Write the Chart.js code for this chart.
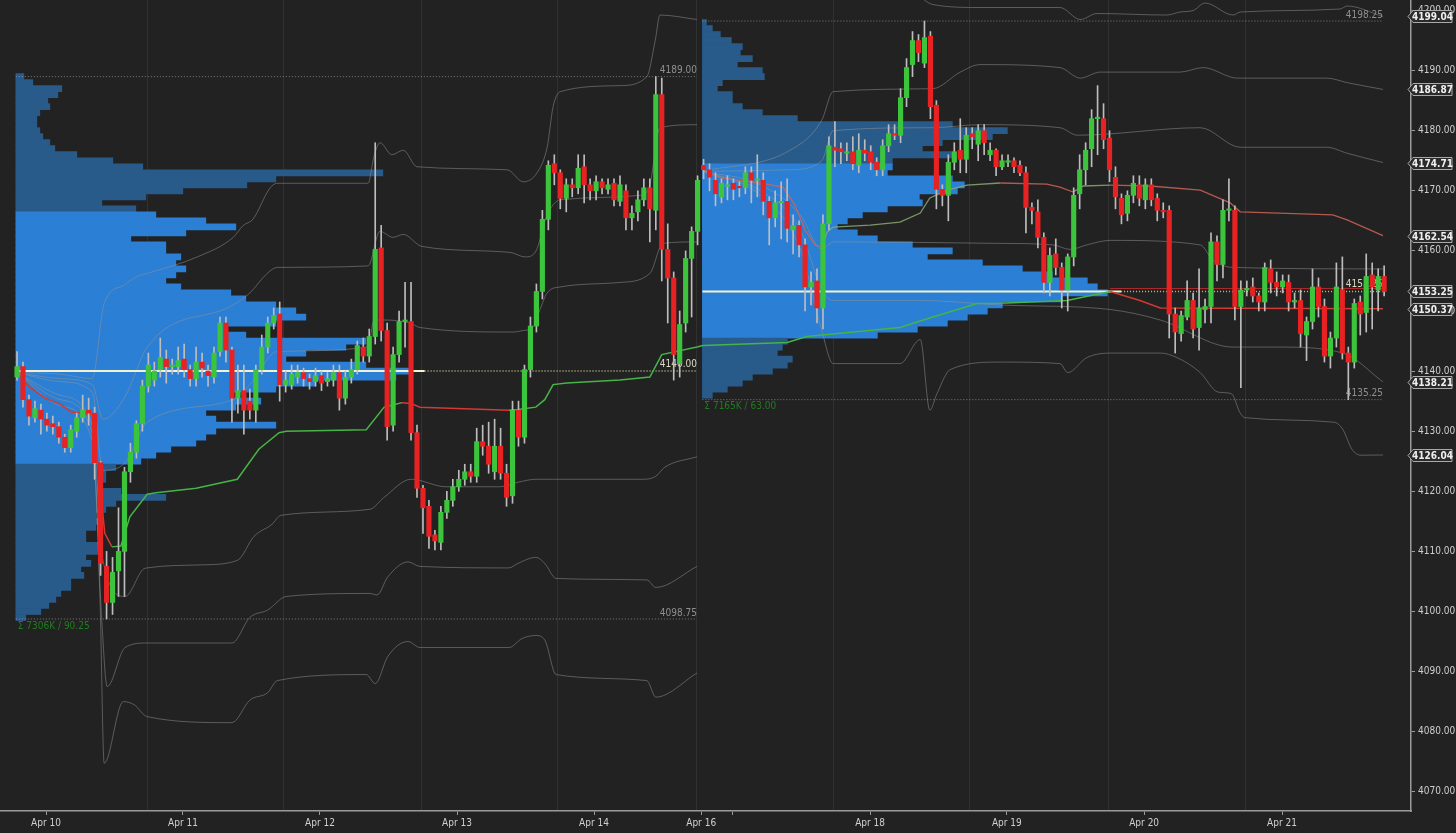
<!DOCTYPE html>
<html>
<head>
<meta charset="utf-8">
<script src="https://cdn.jsdelivr.net/npm/chart.js@4.4.1/dist/chart.umd.min.js"></script>
<style>
  html, body { margin: 0; padding: 0; background: #222222; }
  #wrap { width: 1456px; height: 833px; }
</style>
</head>
<body>
<div id="wrap"><canvas id="mainChartCanvas" width="1456" height="833"></canvas></div>
<script>
const FONT = "'Liberation Sans Narrow', 'DejaVu Sans Condensed', 'Arial Narrow', sans-serif";

// x unit = one hourly bar, bar 0 = first bar of the Apr 10 session
const xMin = -2.85, xMax = 233.5;
const yMin = 4066.8, yMax = 4201.75;

const dateTickVals = [4.86, 27.8, 50.75, 73.7, 96.65, 114.6, 119.8, 142.9, 165.8, 188.8, 211.9];
const dateTickLabels = ['Apr 10', 'Apr 11', 'Apr 12', 'Apr 13', 'Apr 14', 'Apr 16', '', 'Apr 18', 'Apr 19', 'Apr 20', 'Apr 21'];
const sessionBreaks = [21.8, 44.7, 67.7, 90.6, 113.9, 136.7, 159.6, 182.75, 205.7];
const priceTicks = [4070, 4080, 4090, 4100, 4110, 4120, 4130, 4140, 4150, 4160, 4170, 4180, 4190, 4200];
const markerValues = [4199.04, 4186.87, 4174.71, 4162.54, 4153.25, 4150.37, 4138.21, 4126.04];

// [open, high, low, close]
const week1Candles = [
  [4139,4143.25,4138.5,4140.75],[4140.75,4141.5,4134,4135.25],[4135.25,4136,4131,4132.5],[4132.25,4135,4131.5,4133.75],
  [4133.5,4134.5,4129.5,4132],[4132,4133,4130,4131],[4131.25,4132.5,4129.5,4130.75],[4130.75,4131.5,4128,4129],
  [4129,4129.5,4126.5,4127.25],[4127.25,4131,4126.5,4130.25],[4130,4133,4129,4132.25],[4132.25,4136,4131.5,4133.5],
  [4133.5,4135.5,4131,4133],[4133,4134,4122,4124.75],[4124.75,4125,4106,4108],[4107.5,4110,4098.75,4101.5],
  [4101.5,4109,4099.5,4106.5],[4106.75,4117.25,4102.5,4110],[4110,4124,4102.5,4123.25],[4123.25,4128,4121.5,4126.5],
  [4126.5,4131.75,4125.5,4131.25],[4131.25,4138.5,4130,4137.5],[4137.5,4143,4136.5,4141],[4138.5,4141.5,4137.5,4140],
  [4140.25,4145.5,4139,4142.25],[4142,4143.5,4138,4140.75],[4140.75,4142,4139.5,4141],[4140.75,4144,4139.5,4141.75],
  [4142,4144.5,4139,4140.25],[4140.25,4141,4137.5,4138.75],[4138.75,4144,4137.5,4141.5],[4141.5,4143,4139,4140.5],
  [4140,4141,4137.5,4139.25],[4139,4144,4138,4143],[4143.25,4149,4142.5,4148],[4148,4149,4141.5,4143.5],
  [4143.5,4144,4131.5,4135.5],[4135.5,4141,4133,4136.75],[4136.75,4141,4129.5,4133.5],[4135,4137,4132,4133.5],
  [4133.5,4141,4131.5,4140.25],[4140.25,4146,4139.5,4144],[4144,4149,4143,4148],[4148,4150.5,4147,4149.25],
  [4149.5,4151.5,4135,4137.75],[4137.75,4140,4136.5,4138.5],[4137.75,4141,4137,4139.5],[4139,4141,4138,4139.75],
  [4139.75,4140.5,4137.5,4138.75],[4138.75,4139.5,4137,4138.25],[4138.25,4140.5,4137.5,4139.25],[4139.25,4140,4136.75,4138],
  [4138.25,4139.75,4137.5,4138.75],[4138.5,4141,4137.5,4139.75],[4139.75,4141,4133.5,4135.5],[4135.5,4140,4134.5,4139],
  [4139,4142,4138,4140.25],[4140.25,4145,4139.5,4144.25],[4144,4145.5,4141.5,4142.5],[4142.5,4147,4141.5,4145.75],
  [4145.75,4178,4144.5,4160.25],[4160.5,4164.25,4145,4146.75],[4146.75,4148,4128.5,4130.75],[4131,4144,4130,4142.75],
  [4142.75,4150,4141.5,4148.25],[4148.25,4154.75,4144,4148.5],[4148.25,4154.75,4128.5,4129.75],[4129.75,4131,4119,4120.5],
  [4120.5,4121,4113,4117.25],[4117.5,4118.5,4110.5,4112.5],[4112.75,4113.5,4110.25,4111.75],[4111.5,4117.5,4110.25,4116.5],
  [4116.5,4120,4115.5,4118.5],[4118.5,4122,4117.5,4120.75],[4120.75,4123.5,4120,4122],[4122,4124.5,4121,4123.25],
  [4123.25,4124.5,4121.5,4122.5],[4122.5,4130.5,4121.5,4128.25],[4128.25,4131,4126,4127.5],[4127.5,4131.5,4123,4124.5],
  [4123.25,4132,4122,4127.5],[4127.5,4130.5,4122,4123],[4123,4124.5,4117.5,4119],[4119.25,4135,4118,4133.5],
  [4133.5,4135,4127.5,4129],[4129,4141,4128,4140.25],[4140.25,4149,4139,4147.5],[4147.5,4154.5,4146.5,4153.25],
  [4153.25,4166.75,4152,4165.25],[4165.25,4175,4163.5,4174.25],[4174.5,4176,4171,4173],[4173,4173.5,4167,4168.75],
  [4168.75,4172,4166.5,4171],[4171,4172,4169,4170.5],[4170.5,4176,4169.5,4173.75],[4174,4176,4168,4171],
  [4171,4172,4168.5,4170],[4170,4172.5,4168.5,4171.5],[4171.5,4172,4169.5,4170.5],[4170.25,4172,4169.5,4171],
  [4171.25,4172,4167.5,4168.5],[4168.25,4172.5,4167.5,4171],[4170,4171,4163.5,4165.5],[4165.5,4167.5,4163.5,4166.25],
  [4166.5,4170,4165,4168.5],[4168.5,4172,4167.5,4170.5],[4170.5,4172,4161.5,4167],[4166.75,4189,4163.5,4186],
  [4186,4188.75,4155,4160.25],[4160.25,4164.5,4148,4155.5],[4155.5,4156.5,4138.5,4142.75],[4141.25,4150,4139,4147.75],
  [4148,4160,4146.5,4158.75],[4158.75,4164,4149,4163.25],[4163.25,4172.5,4161,4171.75]
];
const week2Candles = [
  [4174.25,4175.25,4172,4173.5],[4173.5,4174.5,4170,4172.25],[4171.75,4173,4167.5,4169.5],[4169,4172,4168,4171.25],
  [4170.75,4172.5,4168.5,4171],[4171.25,4172,4168.5,4170.25],[4170.75,4171.5,4169,4170.5],[4170.5,4174,4169.5,4173],
  [4173,4174,4168,4171.75],[4171.75,4176,4169,4172],[4171.75,4173,4166,4168.25],[4168.25,4169,4161,4165.5],
  [4165.5,4170,4164,4168],[4168,4171.5,4162,4168.25],[4168.25,4172,4161.5,4163.75],[4163.5,4166,4159.5,4164.25],
  [4164.25,4165,4159,4161],[4161,4162,4150,4154],[4154,4156.5,4151,4154.75],[4155,4157,4148,4150.5],
  [4150.5,4166,4147,4164.5],[4164.5,4179,4163.5,4177.5],[4177.25,4181.5,4174,4176.75],[4177,4178,4174.5,4176.5],
  [4176.25,4178,4175,4176.5],[4176.5,4179,4173.5,4174.5],[4174.25,4179.5,4173,4176.75],[4176.75,4178.5,4175,4176.25],
  [4176.5,4177.5,4173.5,4174.75],[4174.75,4175.5,4172.5,4173.5],[4173.5,4178.5,4172.5,4177.5],[4177.5,4181,4176.5,4179.5],
  [4179.5,4181,4178.5,4179.25],[4179.25,4187,4178,4185.5],[4185.5,4192,4184,4190.5],[4191,4196.5,4189,4195],
  [4195,4196,4191.5,4193],[4191.25,4198.25,4190.5,4195.5],[4195.75,4196.5,4182,4184],[4184.25,4185,4167,4170.25],
  [4170.25,4171,4167.5,4169.25],[4169.25,4176,4165,4174.75],[4174.75,4178,4173.5,4176.5],[4176.75,4182,4173,4175.25],
  [4175.25,4180.5,4173,4179.25],[4179.5,4180.5,4177,4179],[4177.75,4181,4175,4180],[4180,4181,4176,4178],
  [4176,4178,4175,4176.75],[4176.75,4177,4172.5,4174],[4174,4176,4173.5,4175],[4174.75,4176,4174,4175],
  [4175,4175.5,4173,4174],[4174.25,4175,4172.5,4173],[4173,4174,4163,4167.25],[4167.25,4168,4164.5,4166.75],
  [4166.5,4168.5,4160.5,4162.25],[4162.25,4163,4153,4154.75],[4154.75,4160.5,4152.5,4159.25],[4159.5,4162,4156,4157.25],
  [4157.25,4158,4150.5,4153.5],[4153.5,4159.5,4150,4159],[4159,4170.5,4157.5,4169.25],[4169.5,4176,4167,4173.5],
  [4173.5,4178,4171,4176.75],[4177,4183.5,4174,4182],[4182,4187.5,4176,4182.25],[4182,4184.5,4177,4178.5],
  [4178.75,4180,4171.5,4173.5],[4172.25,4174,4167,4169],[4168.75,4169.5,4164.5,4166],[4166.25,4170,4165,4169.25],
  [4169.25,4172.5,4168,4171.25],[4171,4172.5,4167.5,4168.75],[4168.5,4172,4167,4171],[4171,4172,4167.5,4168.5],
  [4168.75,4169.5,4165,4166.75],[4166.75,4168,4165.5,4166.5],[4166.75,4167.5,4145.5,4149.5],[4149.5,4150.5,4143,4146.5],
  [4146.25,4150,4145,4149.25],[4149,4155,4148.5,4151.75],[4151.75,4153,4145.5,4147],[4147.25,4157,4143.5,4150.5],
  [4150.25,4152,4148,4150.75],[4150.75,4163,4148,4161.5],[4161.5,4162.5,4155,4157.75],[4157.75,4168.5,4155.5,4166.75],
  [4166.75,4172,4165,4167],[4166.75,4167.5,4148.5,4150.75],[4150.75,4155,4137.25,4153.5],[4153.5,4155,4152.5,4153.75],
  [4154,4155.5,4151.5,4152.5],[4152.5,4153,4150,4151.5],[4151.5,4158,4150,4157.25],[4157,4158.5,4153,4154.75],
  [4154.75,4156.5,4152.5,4154],[4154,4156,4153,4155],[4154.75,4156,4150,4151.5],[4151.5,4153,4150.5,4151.75],
  [4151.75,4153.5,4144,4146.25],[4146,4149,4141.75,4148.25],[4148.25,4157,4147,4154],[4154,4155.5,4149,4150.75],
  [4150.75,4152,4141.5,4142.5],[4142.5,4146.5,4140.5,4145.5],[4145.5,4158,4144,4154],[4153.5,4159,4142,4143],
  [4143,4144,4135.25,4141.5],[4141.5,4152,4140.5,4151.25],[4151.5,4152.5,4146,4149.5],[4149.75,4159.5,4146.5,4155.75],
  [4156,4158,4147,4154],[4153.5,4157,4150,4155.75],[4155.75,4157.5,4152.5,4153.25]
];
const candles = week1Candles.concat(week2Candles);

// volume profiles: one row per point, top price first (relative volume)
const prof1Top = 4189;
const prof1Vol = [8,17,46,42,32,34,24,21,21,24,27,34,39,61,97,127,367,260,231,167,130,86,120,140,190,220,170,115,150,150,
  165,160,170,160,150,165,215,230,260,280,290,260,210,230,350,330,290,270,350,395,380,300,260,217,245,220,190,200,260,200,
  190,180,155,140,125,100,90,90,85,105,150,100,90,80,85,80,70,70,85,85,70,75,65,68,55,55,45,40,33,25,10];
const prof1VA = [4125, 4166];
const prof1Poc = 4140.00;
const prof1Range = [4098.75, 4189.00];
const prof1Total = '7306K';
const prof1Span = [-0.2, 113.9];

const prof2Top = 4198;
const prof2Vol = [4,10,18,29,40,38,50,35,60,62,20,15,30,30,40,60,95,250,305,290,240,220,250,190,190,185,250,262,255,217,
  220,185,160,145,135,155,175,210,250,225,280,320,350,385,395,405,360,300,285,265,245,215,175,85,80,75,90,85,70,50,40,25,10];
const prof2VA = [4146, 4174];
const prof2Poc = 4153.25;
const prof2Range = [4135.25, 4198.25];
const prof2Total = '7165K';
const prof2Span = [114.8, 228.8];

// anchored vwap lines [bar, price]
const vwapA = [[1,4138.5],[2.2,4137.25],[4.7,4135.5],[7.2,4134.5],[9,4133.25],[12.6,4132.75],[13.6,4124],[14.7,4113],
  [15.9,4110.75],[17.4,4110.9],[18.9,4115.75],[21.8,4119.5],[23.3,4119.75],[30,4120.5],[36.9,4122],[40.5,4127],
  [43.9,4129.75],[45.1,4130],[58.5,4130.25],[61.5,4134],[64.5,4134.75],[66,4134.6],[67.5,4134],[82.4,4133.5],
  [83.9,4133.6],[86.9,4134],[88.4,4135.25],[89.8,4137.75],[92.1,4138],[101,4138.5],[106,4139],[108,4142.75],
  [113.9,4144],[114.9,4144.25],[129,4144.75],[132.3,4145.75],[147.9,4147.25],[153.4,4149],[160.8,4151.25],
  [164.7,4151.3],[175.9,4151.75],[183.1,4153.25],[188.1,4151.75],[191.5,4150.5],[228.8,4150.37]];
const vwapB = [[114.9,4173.5],[117.8,4172.15],[124.5,4171.3],[128.3,4170.6],[130.3,4167.65],[132,4163.5],[133.7,4160.95],
  [134.8,4160.65],[135.7,4163.15],[136.7,4163.95],[142.9,4164.3],[147.9,4164.8],[151.3,4166.3],[152.9,4168.8],
  [155.8,4170.1],[159.1,4170.95],[164.7,4171.3],[172.5,4171.1],[174.7,4170.6],[176.9,4169.8],[178.6,4170.8],
  [183.1,4170.95],[189.8,4170.8],[198.2,4170.1],[203.2,4168],[204.9,4166.5],[220.4,4166],[222.8,4165.15],[228.8,4162.54]];
const prevLevel = [[183.1,4153.75],[228.8,4153.75]];

// deviation bands, week 1
const w1Up3 = [[0,4139.75],[7.2,4139.5],[12.6,4138.75],[14.6,4151.25],[17.8,4154.25],[20.1,4155.75],[21.8,4156.25],[30.2,4159],
  [36.2,4162.25],[37.9,4164.25],[39.5,4165.25],[42.4,4170.5],[43.6,4171.25],[58.8,4171.25],[59.8,4175.75],[60.8,4178],
  [62.8,4176],[64.7,4176.75],[67,4174],[82.1,4173.5],[84.8,4171.5],[87.1,4173],[88.8,4177.25],[89.8,4184],[91,4186.5],
  [101,4187.5],[105.5,4189],[106.9,4195],[107.7,4199.25],[113.9,4198.5]];
const w1Up2 = [[0,4139.75],[7.2,4138.75],[12.6,4137.75],[14.4,4132],[18.1,4135.75],[21.8,4144],[36.2,4151],[39,4153],
  [41.9,4156.25],[43.6,4157.25],[58.8,4157.5],[60.8,4163.25],[63,4162.25],[64.7,4162.75],[67.8,4160.75],[82.6,4159.75],
  [85.1,4159],[86.8,4159.75],[88.8,4166],[91,4168.5],[104.4,4169.25],[106,4171],[107.7,4180.5],[113.9,4181]];
const w1Up1 = [[0,4139.75],[7.2,4138.25],[12.6,4136.5],[14.4,4123.5],[18.1,4124.75],[21.8,4131.5],[36.2,4135.25],[39,4137.75],
  [43.6,4143.25],[58.8,4144],[59.8,4148.5],[61.3,4148.5],[65.8,4148],[67.5,4147.25],[83.1,4146.5],[84.8,4146.75],
  [86.4,4147.25],[87.6,4150.25],[88.8,4153],[91,4154],[101,4154.75],[106,4156.25],[108.2,4161.25],[113.9,4161.5]];
const w1Dn1 = [[0,4139.75],[7.2,4136],[12.6,4131],[14.4,4108.5],[18.1,4102.5],[21.1,4107],[21.8,4107.25],[30.8,4107.75],
  [36.9,4108.5],[39.7,4112.5],[42.7,4114.5],[44.2,4116],[59.1,4117],[61.5,4119],[66,4122],[71.9,4120.75],[80.9,4120.75],
  [83.9,4121.5],[86.9,4122],[104.9,4122],[107,4122.5],[108.5,4124],[113.9,4125.75]];
const w1Dn2 = [[0,4139.75],[7.2,4135.25],[12.6,4129.75],[14.2,4098.5],[15.1,4087.5],[18.1,4094],[21.8,4094.75],[36,4094.75],
  [39,4099],[42,4100.25],[45.1,4102.5],[59.1,4103],[60.3,4102.75],[62.1,4105.75],[65.5,4108.25],[67.5,4107.5],[82.4,4107.25],
  [83.9,4108],[86.9,4109],[88.4,4108],[90.3,4105.5],[105.5,4105.25],[107,4104],[113.9,4107.5]];
const w1Dn3 = [[0,4139.75],[7.2,4134.25],[12.6,4128.5],[13.9,4102],[14.6,4074.75],[17.8,4085],[19.6,4084.5],[21.8,4082.5],
  [36,4081.5],[39,4085.25],[42,4086.5],[43.6,4088.5],[58.5,4089.5],[60,4088],[62.1,4092.5],[65.5,4095],[67.5,4094],
  [82.4,4094],[84.6,4095.5],[86.9,4096],[88.4,4095.25],[90.3,4089.5],[105.5,4088.5],[107,4085.75],[113.9,4089.75]];

// deviation bands, week 2
const w2Up4 = [[147.9,4204.25],[150.9,4202.5],[153.4,4201],[161.3,4200.5],[174.7,4200.5],[178.1,4198.5],[180.9,4199.5],
  [192.6,4199.25],[194.8,4199.75],[197,4200],[199,4201.25],[203.7,4199.25],[204.9,4199.75],[221.6,4200.25],[222.8,4200.75],[228.8,4199]];
const w2Up3 = [[114.9,4173.25],[129.5,4176.75],[134.8,4181.75],[136.7,4186.5],[153.4,4187],[158,4189.75],[161.3,4191],
  [174.7,4190.5],[178.1,4188.75],[181.4,4189.75],[194.8,4189.75],[198.7,4190.5],[204.4,4188.75],[219.4,4188.75],[222.8,4188],[228.8,4186.87]];
const w2Up2 = [[114.9,4173.25],[129.5,4173.5],[134.8,4175],[136.7,4180],[153.4,4180.5],[161.3,4181],[174.7,4180.5],
  [177.6,4179.25],[198.2,4180.5],[204.9,4177.25],[219.4,4177.25],[222.8,4176.25],[228.8,4174.71]];
const w2Up1 = [[114.9,4173.25],[124.5,4171],[131.2,4166],[134.8,4160.25],[136.7,4161.5],[164.7,4161.25],[173.5,4161],
  [176.4,4160.25],[179.2,4161],[183.1,4161.75],[198.2,4161],[200.3,4158.5],[203.7,4157.25],[228.8,4157]];
const w2Dn1 = [[114.9,4173.25],[124.5,4170],[131.2,4163.5],[134.8,4153.5],[136.7,4151.75],[151.3,4151.75],[164.7,4151],
  [183.1,4150.25],[191.5,4148.5],[203.7,4144],[211.1,4144],[222.1,4143],[228.8,4138.21]];
const w2Dn2 = [[114.9,4173.25],[124.5,4169.25],[131.2,4160.25],[134.8,4146.75],[136.7,4141.25],[147.9,4141.25],[151.3,4145.25],
  [152.9,4133.5],[154.1,4136.25],[156.3,4140.25],[164.7,4141.5],[174.7,4141.25],[176,4139.75],[179.2,4142.25],[183.6,4143],
  [191.5,4143],[194.3,4142.25],[198.2,4139.75],[201.2,4136.5],[203.4,4136.25],[204.9,4133],[205.7,4132.25],[220.6,4131.5],
  [222.1,4130.25],[223.6,4127],[225.1,4126],[228.8,4126.04]];

const UP = '#3cc43c', DOWN = '#e82222';
const PROFILE_BARS_PER_UNIT = 1 / 5.97;

function profileDataset(top, vols, start, va) {
  return {
    type: 'bar', indexAxis: 'y', xAxisID: 'x', yAxisID: 'y',
    data: vols.map((v, k) => ({ y: top - k, x: [start, start + v * PROFILE_BARS_PER_UNIT] })),
    backgroundColor: ctx => {
      const p = ctx.raw ? ctx.raw.y : 0;
      return (p >= va[0] && p <= va[1]) ? '#2b7fd4' : '#285a8a';
    },
    grouped: false, barThickness: 6.1, borderWidth: 0, order: 20
  };
}

function lineDs(points, color, width, order, extra) {
  return Object.assign({
    type: 'line', xAxisID: 'x', yAxisID: 'y',
    data: points.map(p => ({ x: p[0], y: p[1] })),
    borderColor: color, borderWidth: width, pointRadius: 0, fill: false,
    cubicInterpolationMode: 'monotone', order: order
  }, extra || {});
}

function slope(up, down) {
  return { segment: { borderColor: c => c.p1.parsed.y >= c.p0.parsed.y ? up : down } };
}

const flat = { cubicInterpolationMode: 'default', tension: 0 };
const dotted = Object.assign({ borderDash: [1, 2] }, flat);
const BAND = 'rgba(150,150,150,0.5)';

function pocEnd(span, vols) {
  return span[0] + Math.max(...vols) * PROFILE_BARS_PER_UNIT + 2.3;
}

const datasets = [
  profileDataset(prof1Top, prof1Vol, prof1Span[0], prof1VA),
  profileDataset(prof2Top, prof2Vol, prof2Span[0], prof2VA),

  lineDs(w1Up3, BAND, 1, 15), lineDs(w1Up2, BAND, 1, 15), lineDs(w1Up1, BAND, 1, 15),
  lineDs(w1Dn1, BAND, 1, 15), lineDs(w1Dn2, BAND, 1, 15), lineDs(w1Dn3, BAND, 1, 15),
  lineDs(w2Up4, BAND, 1, 15), lineDs(w2Up3, BAND, 1, 15), lineDs(w2Up2, BAND, 1, 15),
  lineDs(w2Up1, BAND, 1, 15), lineDs(w2Dn1, BAND, 1, 15), lineDs(w2Dn2, BAND, 1, 15),

  lineDs([[prof1Span[0], prof1Range[1]], [prof1Span[1], prof1Range[1]]], 'rgba(200,200,200,0.55)', 1, 14, dotted),
  lineDs([[prof1Span[0], prof1Range[0]], [prof1Span[1], prof1Range[0]]], 'rgba(200,200,200,0.55)', 1, 14, dotted),
  lineDs([[prof2Span[0], prof2Range[1]], [prof2Span[1], prof2Range[1]]], 'rgba(200,200,200,0.55)', 1, 14, dotted),
  lineDs([[prof2Span[0], prof2Range[0]], [prof2Span[1], prof2Range[0]]], 'rgba(200,200,200,0.55)', 1, 14, dotted),

  lineDs([[prof1Span[0], prof1Poc], [pocEnd(prof1Span, prof1Vol), prof1Poc]], '#f3f1cf', 2, 12, flat),
  lineDs([[pocEnd(prof1Span, prof1Vol), prof1Poc], [prof1Span[1], prof1Poc]], 'rgba(225,222,160,0.85)', 1.5, 12, dotted),
  lineDs([[prof2Span[0], prof2Poc], [pocEnd(prof2Span, prof2Vol), prof2Poc]], '#f3f1cf', 2, 12, flat),
  lineDs([[pocEnd(prof2Span, prof2Vol), prof2Poc], [prof2Span[1], prof2Poc]], 'rgba(225,222,160,0.85)', 1.5, 12, dotted),

  lineDs(prevLevel, 'rgba(190,45,45,0.9)', 1, 11, flat),
  lineDs(vwapA, UP, 1.5, 10, Object.assign(slope('#46b446', '#d23a32'), flat)),
  lineDs(vwapB, UP, 1.3, 10, Object.assign(slope('rgba(135,170,115,0.85)', 'rgba(205,100,88,0.85)'), flat)),

  {
    type: 'bar', xAxisID: 'x', yAxisID: 'y',
    data: candles.map((c, i) => ({ x: i, y: [c[2], c[1]] })),
    backgroundColor: '#bdbdbd', barThickness: 1, grouped: false, order: 3
  },
  {
    type: 'bar', xAxisID: 'x', yAxisID: 'y',
    data: candles.map((c, i) => ({ x: i, y: [c[0], c[3]] })),
    backgroundColor: candles.map(c => c[3] >= c[0] ? UP : DOWN),
    barThickness: 4.5, grouped: false, minBarLength: 1, borderWidth: 0, order: 2
  }
];

const bgPlugin = {
  id: 'bg',
  beforeDraw(chart) {
    const ctx = chart.ctx;
    ctx.save();
    ctx.fillStyle = '#222222';
    ctx.fillRect(0, 0, chart.width, chart.height);
    ctx.restore();
  }
};

const profiles = [
  { span: prof1Span, range: prof1Range, poc: prof1Poc, total: prof1Total },
  { span: prof2Span, range: prof2Range, poc: prof2Poc, total: prof2Total }
];

const labelPlugin = {
  id: 'profileLabels',
  beforeDatasetsDraw(chart) {
    const { ctx, scales: { x, y } } = chart;
    ctx.save();
    ctx.font = '10px ' + FONT;
    profiles.forEach(pr => {
      const xr = x.getPixelForValue(pr.span[1]);
      ctx.textAlign = 'right';
      ctx.textBaseline = 'bottom';
      ctx.fillStyle = '#8f8f8f';
      ctx.fillText(pr.range[1].toFixed(2), xr, y.getPixelForValue(pr.range[1]) - 1);
      ctx.fillText(pr.range[0].toFixed(2), xr, y.getPixelForValue(pr.range[0]) - 1);
      ctx.fillStyle = '#dcdac4';
      ctx.fillText(pr.poc.toFixed(2), xr, y.getPixelForValue(pr.poc) - 2);
      ctx.textAlign = 'left';
      ctx.textBaseline = 'top';
      ctx.fillStyle = '#1f7d1f';
      ctx.fillText('\u03a3 ' + pr.total + ' / ' + (pr.range[1] - pr.range[0]).toFixed(2),
        x.getPixelForValue(pr.span[0]) + 2, y.getPixelForValue(pr.range[0]) + 2);
    });
    ctx.restore();
  }
};

const markerPlugin = {
  id: 'markers',
  afterDraw(chart) {
    const { ctx, scales: { y } } = chart;
    ctx.save();
    ctx.font = 'bold 10px ' + FONT;
    ctx.textAlign = 'center';
    ctx.textBaseline = 'middle';
    markerValues.forEach(v => {
      const py = Math.round(y.getPixelForValue(v)) + 0.5;
      const left = y.left - 3, right = chart.width - 4, h = 6;
      ctx.beginPath();
      ctx.moveTo(left, py);
      ctx.lineTo(left + 5, py - h);
      ctx.lineTo(right, py - h);
      ctx.lineTo(right, py + h);
      ctx.lineTo(left + 5, py + h);
      ctx.closePath();
      ctx.fillStyle = '#2b2b2b';
      ctx.fill();
      ctx.strokeStyle = '#a9a9a9';
      ctx.lineWidth = 1;
      ctx.stroke();
      ctx.fillStyle = '#f0f0f0';
      ctx.fillText(v.toFixed(2), (left + 5 + right) / 2, py + 0.5);
    });
    ctx.restore();
  }
};

Chart.defaults.font.family = FONT;
Chart.defaults.color = '#cfcfcf';

new Chart(document.getElementById('mainChartCanvas'), {
  type: 'bar',
  data: { datasets: datasets },
  options: {
    responsive: false,
    animation: false,
    events: [],
    layout: { padding: 0 },
    plugins: { legend: { display: false }, tooltip: { enabled: false } },
    scales: {
      x: {
        type: 'linear', position: 'bottom', min: xMin, max: xMax, offset: false, bounds: 'data', beginAtZero: false,
        afterBuildTicks: s => { s.ticks = dateTickVals.map(v => ({ value: v })); },
        afterFit: s => { s.height = 22; s.paddingLeft = 0; s.paddingRight = 0; },
        ticks: { autoSkip: false, maxRotation: 0, padding: 2, color: '#cfcfcf', font: { size: 10 },
          callback: (v, i) => dateTickLabels[i] },
        grid: { offset: false, drawOnChartArea: false, drawTicks: true, tickLength: 4, color: '#9a9a9a' },
        border: { display: true, color: '#9a9a9a', width: 1.5 }
      },
      xg: {
        type: 'linear', position: 'top', min: xMin, max: xMax, offset: false, bounds: 'data',
        afterBuildTicks: s => { s.ticks = sessionBreaks.map(v => ({ value: v })); },
        afterFit: s => { s.height = 0; s.paddingLeft = 0; s.paddingRight = 0; },
        ticks: { display: false },
        grid: { offset: false, drawTicks: false, color: '#313131', lineWidth: 1 },
        border: { display: false }
      },
      y: {
        type: 'linear', position: 'right', min: yMin, max: yMax, offset: false, bounds: 'data', beginAtZero: false,
        afterBuildTicks: s => { s.ticks = priceTicks.map(v => ({ value: v })); },
        afterFit: s => { s.width = 45; s.paddingTop = 0; s.paddingBottom = 0; },
        ticks: { padding: 3, color: '#cfcfcf', font: { size: 10 }, callback: v => v.toFixed(2) },
        grid: { offset: false, drawOnChartArea: false, drawTicks: true, tickLength: 4, color: '#9a9a9a' },
        border: { display: true, color: '#9a9a9a', width: 1.5 }
      }
    }
  },
  plugins: [bgPlugin, labelPlugin, markerPlugin]
});
</script>
</body>
</html>
